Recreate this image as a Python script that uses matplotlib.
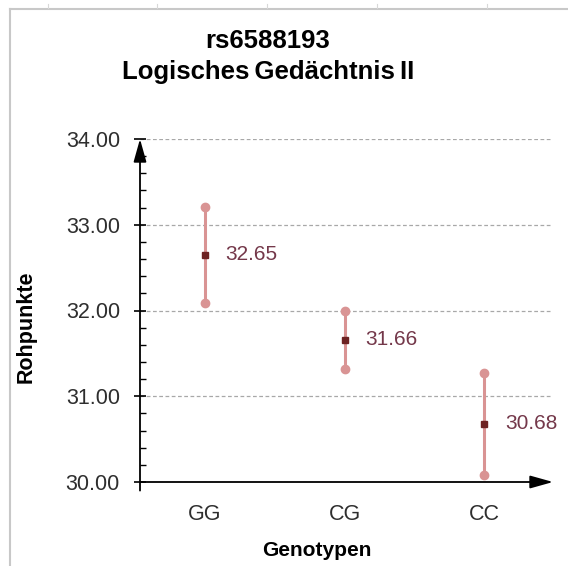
import matplotlib
matplotlib.use("Agg")
import matplotlib.pyplot as plt
from matplotlib.lines import Line2D
from matplotlib.ticker import MultipleLocator, FormatStrFormatter

plt.rcParams["font.family"] = ["Liberation Sans", "DejaVu Sans"]

# Mittelwerte mit Konfidenzintervall je Genotyp
genotypes = ["GG", "CG", "CC"]
means = [32.65, 31.66, 30.68]
lower = [32.09, 31.32, 30.08]
upper = [33.21, 31.99, 31.27]

BAR_COLOR = "#d99494"
MEAN_COLOR = "#6d2222"
VALUE_COLOR = "#74384a"
TICK_COLOR = "#2e2e2e"

fig = plt.figure(figsize=(5.68, 5.66), dpi=100)
ax = fig.add_axes([140 / 568, 84 / 566, 413 / 568, 343 / 566])

x = list(range(1, len(genotypes) + 1))
ax.set_xlim(0.536, 3.49)
ax.set_ylim(30, 34)

# Fehlerbalken + Endpunkte
ax.vlines(x, lower, upper, color=BAR_COLOR, lw=2.2, zorder=3)
ax.plot(x, lower, "o", color=BAR_COLOR, ms=6, zorder=4)
ax.plot(x, upper, "o", color=BAR_COLOR, ms=6, zorder=4)
ax.plot(x, means, "s", color=MEAN_COLOR, ms=4.5, mec=MEAN_COLOR, zorder=5)

for xi, m in zip(x, means):
    ax.annotate(f"{m:.2f}", (xi, m), xytext=(15, 0), textcoords="offset points",
                va="center", ha="left", fontsize=15, color=VALUE_COLOR)

# Achsen mit Pfeilspitzen statt Rahmen
for sp in ax.spines.values():
    sp.set_visible(False)
arrow = dict(arrowstyle="-|>,head_length=1.0,head_width=0.28", color="black",
             lw=1.3, mutation_scale=14, shrinkA=0, shrinkB=0)
ax.annotate("", xy=(0, 1.0), xytext=(0, -0.025), xycoords="axes fraction",
            arrowprops=arrow, annotation_clip=False)
ax.annotate("", xy=(1.0, 0), xytext=(0, 0), xycoords="axes fraction",
            arrowprops=arrow, annotation_clip=False)

ax.yaxis.set_major_locator(MultipleLocator(1))
ax.yaxis.set_minor_locator(MultipleLocator(0.2))
ax.yaxis.set_major_formatter(FormatStrFormatter("%.2f"))
ax.tick_params(axis="y", which="major", direction="inout", length=9, width=1.2,
               labelsize=15.5, labelcolor=TICK_COLOR, pad=10)
ax.tick_params(axis="y", which="minor", direction="in", length=4, width=1.0)
ax.set_xticks(x)
ax.set_xticklabels(genotypes)
ax.tick_params(axis="x", length=0, labelsize=15.5, labelcolor=TICK_COLOR, pad=16)

ax.yaxis.grid(True, which="major", color="#a8a8a8", lw=0.9, linestyle=(0, (3, 2)))
ax.set_axisbelow(True)

fig.text(317 / 568, 1 - 551 / 566, "Genotypen", ha="center", va="center",
         fontsize=15, fontweight="bold")
fig.text(26 / 568, 1 - 327 / 566, "Rohpunkte", rotation=90, ha="center", va="center",
         fontsize=15.5, fontweight="bold")

fig.text(268 / 568, 1 - 41 / 566, "rs6588193", ha="center", va="center",
         fontsize=18.5, fontweight="bold")
fig.text(268 / 568, 1 - 72 / 566, "Logisches\u2009Gedächtnis\u2009II", ha="center",
         va="center", fontsize=18.5, fontweight="bold")

# grauer Seitenrand mit Linealmarken
border = "#c8c8c8"
fig.add_artist(Line2D([9.5 / 568, 9.5 / 568], [0, 1 - 9 / 566], transform=fig.transFigure,
                      color=border, lw=1.5))
fig.add_artist(Line2D([9.5 / 568, 1], [1 - 9 / 566, 1 - 9 / 566], transform=fig.transFigure,
                      color=border, lw=1.5))
for px in [48, 157, 267, 377, 487]:
    fig.add_artist(Line2D([px / 568, px / 568], [1 - 4 / 566, 1 - 8 / 566],
                          transform=fig.transFigure, color="#d8d8d8", lw=0.8))

fig.savefig("out.png", dpi=100)
